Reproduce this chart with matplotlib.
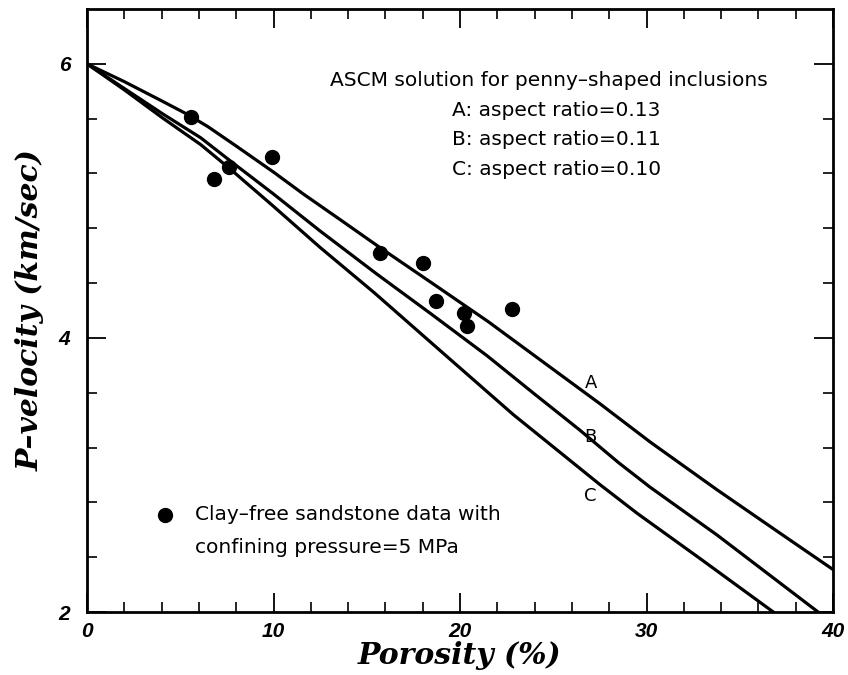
import matplotlib
matplotlib.use("Agg")
import matplotlib.pyplot as plt

# Measured clay-free sandstone velocities (confining pressure 5 MPa)
porosity_data = [5.6, 6.8, 7.6, 9.9, 15.7, 18.0, 18.7, 20.2, 20.4, 22.8]
vp_data = [5.61, 5.16, 5.25, 5.32, 4.62, 4.55, 4.27, 4.18, 4.09, 4.21]

# ASCM model curves for penny-shaped inclusions
poro_a = [0, 2.0, 4.0, 5.4, 6.5, 8.0, 10.0, 11.6, 13.5, 15.7, 18.5, 21.5, 24.5, 27.5,
          30.2, 33.8, 37.0, 40.0]
vp_a = [6.00, 5.87, 5.73, 5.63, 5.54, 5.40, 5.21, 5.05, 4.87, 4.66, 4.40, 4.12, 3.82, 3.52,
        3.24, 2.89, 2.59, 2.31]

poro_b = [0, 2.0, 4.0, 6.1, 7.7, 10.0, 12.5, 15.5, 18.5, 21.45, 24.0, 26.4, 28.5, 30.2,
          33.8, 36.5, 39.2]
vp_b = [6.00, 5.82, 5.64, 5.46, 5.29, 5.05, 4.78, 4.47, 4.17, 3.87, 3.59, 3.33, 3.09, 2.91,
        2.56, 2.28, 2.00]

poro_c = [0, 2.0, 4.0, 6.1, 7.7, 10.0, 12.5, 15.4, 19.0, 22.86, 25.5, 27.5, 29.5,
          32.87, 36.8]
vp_c = [6.00, 5.81, 5.61, 5.41, 5.23, 4.96, 4.66, 4.33, 3.90, 3.44, 3.15, 2.93, 2.72,
        2.39, 2.00]

curve_names = ["A", "B", "C"]
curve_label_pos = [(27.0, 3.67), (27.0, 3.28), (27.0, 2.85)]
aspect_ratios = ["0.13", "0.11", "0.10"]

x_ticks = [0, 10, 20, 30, 40]
y_ticks = [2, 4, 6]

W, H = 848, 675
fig = plt.figure(figsize=(W / 100, H / 100), dpi=100)
left, right, top, bottom = 87, 833, 9, 612
ax = fig.add_axes([left / W, 1 - bottom / H, (right - left) / W, (bottom - top) / H])

for xs, ys in [(poro_a, vp_a), (poro_b, vp_b), (poro_c, vp_c)]:
    ax.plot(xs, ys, color="black", lw=2.3, solid_joinstyle="round")

ax.plot(porosity_data, vp_data, "o", color="black", ms=10, zorder=5)

for name, (lx, ly) in zip(curve_names, curve_label_pos):
    ax.text(lx, ly, name, ha="center", va="center", fontsize=13,
            family="DejaVu Sans")

ax.set_xlim(0, 40)
ax.set_ylim(2, 6.40)

ax.set_xticks(x_ticks)
ax.set_yticks(y_ticks)
ax.set_xticks(range(0, 41, 2), minor=True)
ax.set_yticks([2 + 0.4 * i for i in range(11)], minor=True)
ax.tick_params(which="major", direction="in", length=14, width=1.3,
               top=True, right=True, pad=7)
ax.tick_params(which="minor", direction="in", length=7, width=1.2,
               top=True, right=True)
for spine in ax.spines.values():
    spine.set_linewidth(2.0)

tick_font = dict(family="Liberation Sans", weight="bold", style="italic", size=15)
ax.set_xticklabels([str(t) for t in x_ticks], fontdict=tick_font)
ax.set_yticklabels([str(t) for t in y_ticks], fontdict=tick_font)
ax.tick_params(axis="y", which="major", pad=12)

label_font = dict(family="DejaVu Serif", weight="bold", style="italic", size=21.5)
ax.set_xlabel("Porosity (%)", fontdict=label_font, labelpad=0)
ax.set_ylabel("P\u2013velocity (km/sec)", fontdict=label_font, labelpad=10)

# Model description
note_font = dict(family="DejaVu Sans", size=14.5)
ax.text(13.03, 5.88, "ASCM solution for penny\u2013shaped inclusions",
        ha="left", va="center", **note_font)
for i, (name, ar) in enumerate(zip(curve_names, aspect_ratios)):
    ax.text(19.57, 5.66 - 0.215 * i, f"{name}: aspect ratio={ar}",
            ha="left", va="center", **note_font)

# Data key
ax.plot([4.18], [2.71], "o", color="black", ms=10)
ax.text(5.8, 2.71, "Clay\u2013free sandstone data with", ha="left", va="center",
        **note_font)
ax.text(5.8, 2.47, "confining pressure=5 MPa", ha="left", va="center",
        **note_font)

fig.savefig("out.png", dpi=100)
